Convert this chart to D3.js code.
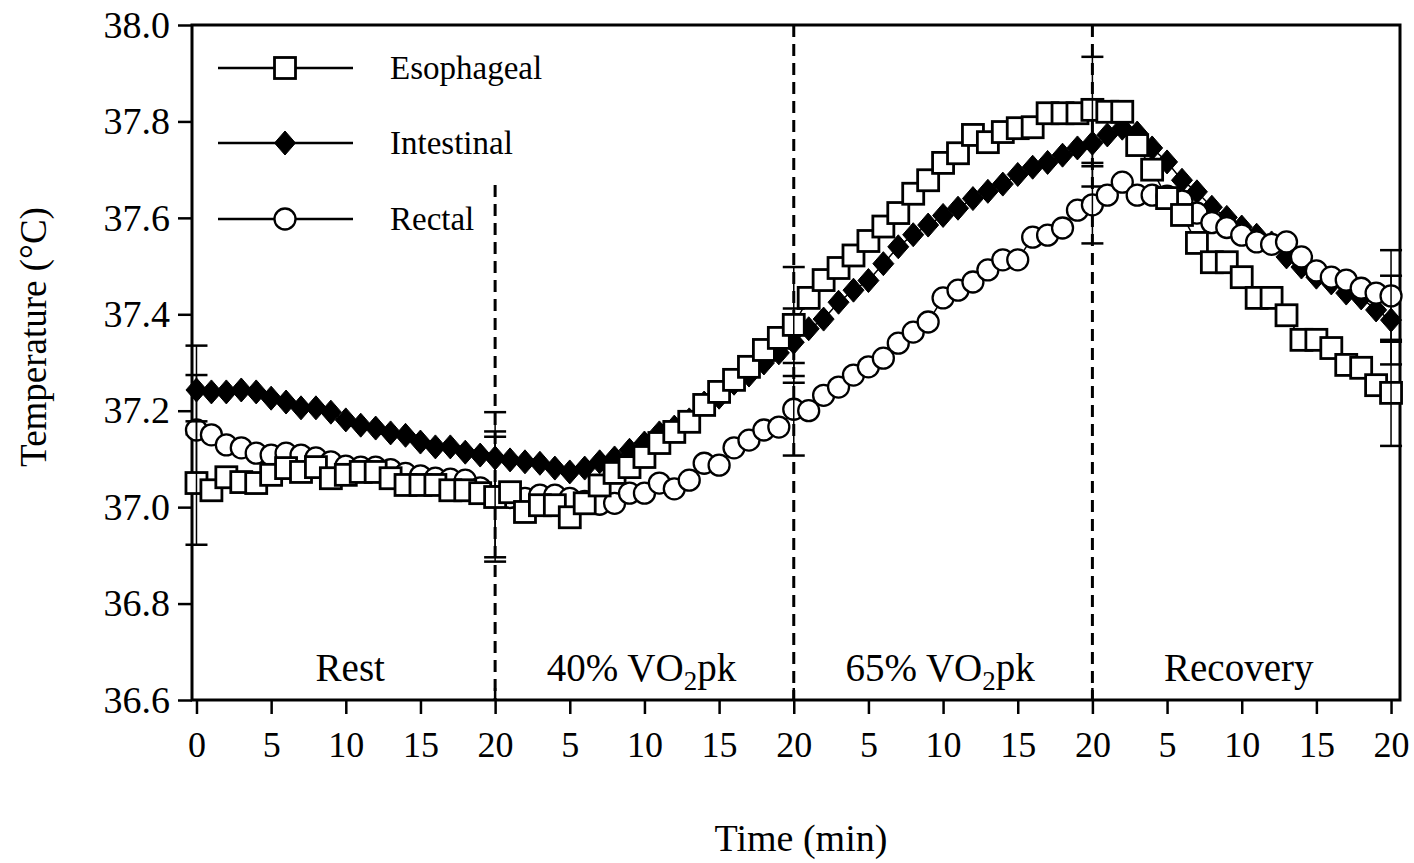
<html>
<head>
<meta charset="utf-8">
<title>Core temperature</title>
<style>
  body { margin: 0; background: #fff; }
  text { font-family: "Liberation Serif", "Times New Roman", serif; fill: #000; }
</style>
</head>
<body>
<div id="chart-area"></div>
<script src="https://d3js.org/d3.v7.min.js"></script>
<script>

const W = 1414, H = 863
const MARGIN = { LEFT: 192, RIGHT: 14, TOP: 25, BOTTOM: 163 }

// ---- data (one value per minute) ----
const times = d3.range(0, 81)

const esophageal = [
  37.050, 37.035, 37.062, 37.052, 37.050, 37.067, 37.081, 37.073, 37.083, 37.060,
  37.067, 37.073, 37.073, 37.060, 37.046, 37.046, 37.046, 37.035, 37.035, 37.029,
  37.021, 37.031, 36.990, 37.004, 37.004, 36.979, 37.008, 37.045, 37.071, 37.083,
  37.104, 37.133, 37.156, 37.177, 37.212, 37.239, 37.264, 37.291, 37.326, 37.351,
  37.378, 37.434, 37.471, 37.496, 37.522, 37.552, 37.582, 37.610, 37.650, 37.678,
  37.714, 37.734, 37.772, 37.757, 37.778, 37.786, 37.788, 37.817, 37.817, 37.817,
  37.824, 37.820, 37.820, 37.751, 37.700, 37.641, 37.606, 37.548, 37.508, 37.508,
  37.477, 37.434, 37.434, 37.398, 37.347, 37.347, 37.330, 37.295, 37.289, 37.253,
  37.237]

const intestinal = [
  37.243, 37.239, 37.239, 37.243, 37.239, 37.226, 37.218, 37.206, 37.206, 37.197,
  37.181, 37.170, 37.164, 37.154, 37.149, 37.135, 37.125, 37.125, 37.114, 37.108,
  37.102, 37.098, 37.094, 37.091, 37.081, 37.073, 37.081, 37.094, 37.102, 37.118,
  37.133, 37.154, 37.166, 37.181, 37.216, 37.228, 37.257, 37.274, 37.299, 37.320,
  37.342, 37.370, 37.390, 37.425, 37.450, 37.470, 37.505, 37.540, 37.565, 37.585,
  37.605, 37.620, 37.640, 37.655, 37.670, 37.690, 37.705, 37.715, 37.730, 37.745,
  37.755, 37.772, 37.786, 37.776, 37.745, 37.716, 37.678, 37.654, 37.622, 37.601,
  37.581, 37.564, 37.548, 37.519, 37.498, 37.477, 37.465, 37.444, 37.434, 37.409,
  37.388]

const rectal = [
  37.160, 37.150, 37.129, 37.123, 37.112, 37.108, 37.112, 37.108, 37.102, 37.094,
  37.085, 37.083, 37.083, 37.078, 37.070, 37.065, 37.060, 37.058, 37.056, 37.040,
  37.022, 37.020, 37.018, 37.025, 37.025, 37.018, 37.012, 37.006, 37.008, 37.029,
  37.029, 37.050, 37.038, 37.056, 37.091, 37.087, 37.123, 37.139, 37.160, 37.166,
  37.203, 37.200, 37.232, 37.249, 37.274, 37.291, 37.309, 37.340, 37.363, 37.384,
  37.434, 37.450, 37.467, 37.492, 37.513, 37.513, 37.560, 37.564, 37.579, 37.616,
  37.627, 37.647, 37.674, 37.647, 37.647, 37.645, 37.635, 37.610, 37.590, 37.580,
  37.564, 37.550, 37.545, 37.550, 37.519, 37.490, 37.477, 37.471, 37.454, 37.444,
  37.438]

// SE bars shown at the start of each phase and at the end
const errTimes = [0, 20, 40, 60, 80]
const esoErr = [0.128, 0.125, 0.120, 0.110, 0.110]
const intErr = [0.092, 0.095, 0.070, 0.090, 0.092]
const recErr = [0.114, 0.135, 0.096, 0.080, 0.095]

const xTickValues = d3.range(0, 81, 5)
const xTickLabels = ["0", "5", "10", "15", "20", "5", "10", "15", "20",
                     "5", "10", "15", "20", "5", "10", "15", "20"]
const yTickValues = [36.6, 36.8, 37.0, 37.2, 37.4, 37.6, 37.8, 38.0]

const phaseBounds = [20, 40, 60]
const phaseCenters = [10.3, 29.8, 49.8, 69.8]
const phaseLabels = [["Rest"], ["40% VO", "2", "pk"], ["65% VO", "2", "pk"], ["Recovery"]]

const seriesNames = ["Esophageal", "Intestinal", "Rectal"]

// ---- svg ----
const svg = d3.select("#chart-area")
  .append("svg")
    .attr("width", W)
    .attr("height", H)

const x = d3.scaleLinear()
  .domain([-0.3, 80.6])
  .range([MARGIN.LEFT, W - MARGIN.RIGHT])

const y = d3.scaleLinear()
  .domain([36.6, 38.0])
  .range([H - MARGIN.BOTTOM, MARGIN.TOP])

const x0 = MARGIN.LEFT, x1 = W - MARGIN.RIGHT
const yTop = MARGIN.TOP, yBot = H - MARGIN.BOTTOM

// phase separators (the first one stops below the legend)
svg.selectAll(".sep")
  .data(phaseBounds).enter()
  .append("line")
    .attr("x1", d => x(d)).attr("x2", d => x(d))
    .attr("y1", d => d === 20 ? 185 : yTop)
    .attr("y2", yBot)
    .attr("stroke", "#000")
    .attr("stroke-width", 3)
    .attr("stroke-dasharray", "12,7")

// phase labels
phaseLabels.forEach((parts, i) => {
  const t = svg.append("text")
    .attr("x", x(phaseCenters[i]))
    .attr("y", 681)
    .attr("text-anchor", "middle")
    .attr("font-size", "39px")
  t.append("tspan").text(parts[0])
  if (parts.length > 1) {
    t.append("tspan").attr("font-size", "27px").attr("dy", 9).text(parts[1])
    t.append("tspan").attr("dy", -9).text(parts[2])
  }
})

// ---- axes ----
const xAxis = d3.axisBottom(x)
  .tickValues(xTickValues)
  .tickSize(14)
  .tickPadding(17)
  .tickFormat((d, i) => xTickLabels[i])

svg.append("g")
  .attr("transform", `translate(0, ${yBot})`)
  .call(xAxis)
  .call(g => g.select(".domain").remove())
  .call(g => g.selectAll("line").attr("stroke-width", 2.5))
  .selectAll("text")
    .attr("font-size", "36px")
    .attr("font-family", "Liberation Serif")

// small inward ticks at the phase boundaries
svg.selectAll(".inTick")
  .data(phaseBounds).enter()
  .append("line")
    .attr("x1", d => x(d)).attr("x2", d => x(d))
    .attr("y1", yBot).attr("y2", yBot - 12)
    .attr("stroke", "#000").attr("stroke-width", 2.5)

const yAxis = d3.axisLeft(y)
  .tickValues(yTickValues)
  .tickSize(14)
  .tickPadding(8)
  .tickFormat(d3.format(".1f"))

svg.append("g")
  .attr("transform", `translate(${x0}, 0)`)
  .call(yAxis)
  .call(g => g.select(".domain").remove())
  .call(g => g.selectAll("line").attr("stroke-width", 2.5))
  .selectAll("text")
    .attr("font-size", "38px")
    .attr("font-family", "Liberation Serif")

// frame
svg.append("rect")
  .attr("x", x0).attr("y", yTop)
  .attr("width", x1 - x0).attr("height", yBot - yTop)
  .attr("fill", "none")
  .attr("stroke", "#000")
  .attr("stroke-width", 3)

// axis titles
svg.append("text")
  .attr("x", 801).attr("y", 851)
  .attr("text-anchor", "middle")
  .attr("font-size", "38px")
  .text("Time (min)")

svg.append("text")
  .attr("transform", `translate(46, 337) rotate(-90)`)
  .attr("text-anchor", "middle")
  .attr("font-size", "37px")
  .text("Temperature (°C)")

// ---- markers ----
function drawMarker(sel, type) {
  if (type === "Esophageal") {
    sel.append("rect")
      .attr("x", -10.5).attr("y", -10.5)
      .attr("width", 21).attr("height", 21)
      .attr("fill", "#fff").attr("stroke", "#000").attr("stroke-width", 2.8)
  } else if (type === "Intestinal") {
    sel.append("path")
      .attr("d", "M0,-12 L10.5,0 L0,12 L-10.5,0 Z")
      .attr("fill", "#000").attr("stroke", "#000").attr("stroke-width", 1)
  } else {
    sel.append("circle")
      .attr("r", 10.5)
      .attr("fill", "#fff").attr("stroke", "#000").attr("stroke-width", 2.3)
  }
}

const line = d3.line()
  .x((d, i) => x(times[i]))
  .y(d => y(d))

const seriesData = { Esophageal: esophageal, Intestinal: intestinal, Rectal: rectal }
const seriesErr = { Esophageal: esoErr, Intestinal: intErr, Rectal: recErr }

// draw order: intestinal at the back, esophageal on top
const drawOrder = ["Intestinal", "Rectal", "Esophageal"]

drawOrder.forEach(name => {
  const vals = seriesData[name]
  const g = svg.append("g")

  g.append("path")
    .datum(vals)
    .attr("d", line)
    .attr("fill", "none")
    .attr("stroke", "#000")
    .attr("stroke-width", 1.5)

  g.selectAll("g.pt")
    .data(vals).enter()
    .append("g")
      .attr("class", "pt")
      .attr("transform", (d, i) => `translate(${x(times[i])}, ${y(d)})`)
      .each(function () { drawMarker(d3.select(this), name) })

  // error bars
  const errs = seriesErr[name]
  errTimes.forEach((t, i) => {
    const v = vals[t]
    const cx = x(t)
    g.append("line")
      .attr("x1", cx).attr("x2", cx)
      .attr("y1", y(v + errs[i])).attr("y2", y(v - errs[i]))
      .attr("stroke", "#000").attr("stroke-width", 1.5)
    ;[v + errs[i], v - errs[i]].forEach(e => {
      g.append("line")
        .attr("x1", cx - 11).attr("x2", cx + 11)
        .attr("y1", y(e)).attr("y2", y(e))
        .attr("stroke", "#000").attr("stroke-width", 2.5)
    })
  })
})

// ---- legend ----
const legendY = [68, 143, 219]
seriesNames.forEach((name, i) => {
  const row = svg.append("g")
    .attr("transform", `translate(0, ${legendY[i]})`)
  row.append("line")
    .attr("x1", 218).attr("x2", 353)
    .attr("stroke", "#000").attr("stroke-width", 2.5)
  const m = row.append("g").attr("transform", "translate(285, 0)")
  drawMarker(m, name)
  row.append("text")
    .attr("x", 390).attr("y", 11)
    .attr("font-size", "33px")
    .text(name)
})

</script>
</body>
</html>
